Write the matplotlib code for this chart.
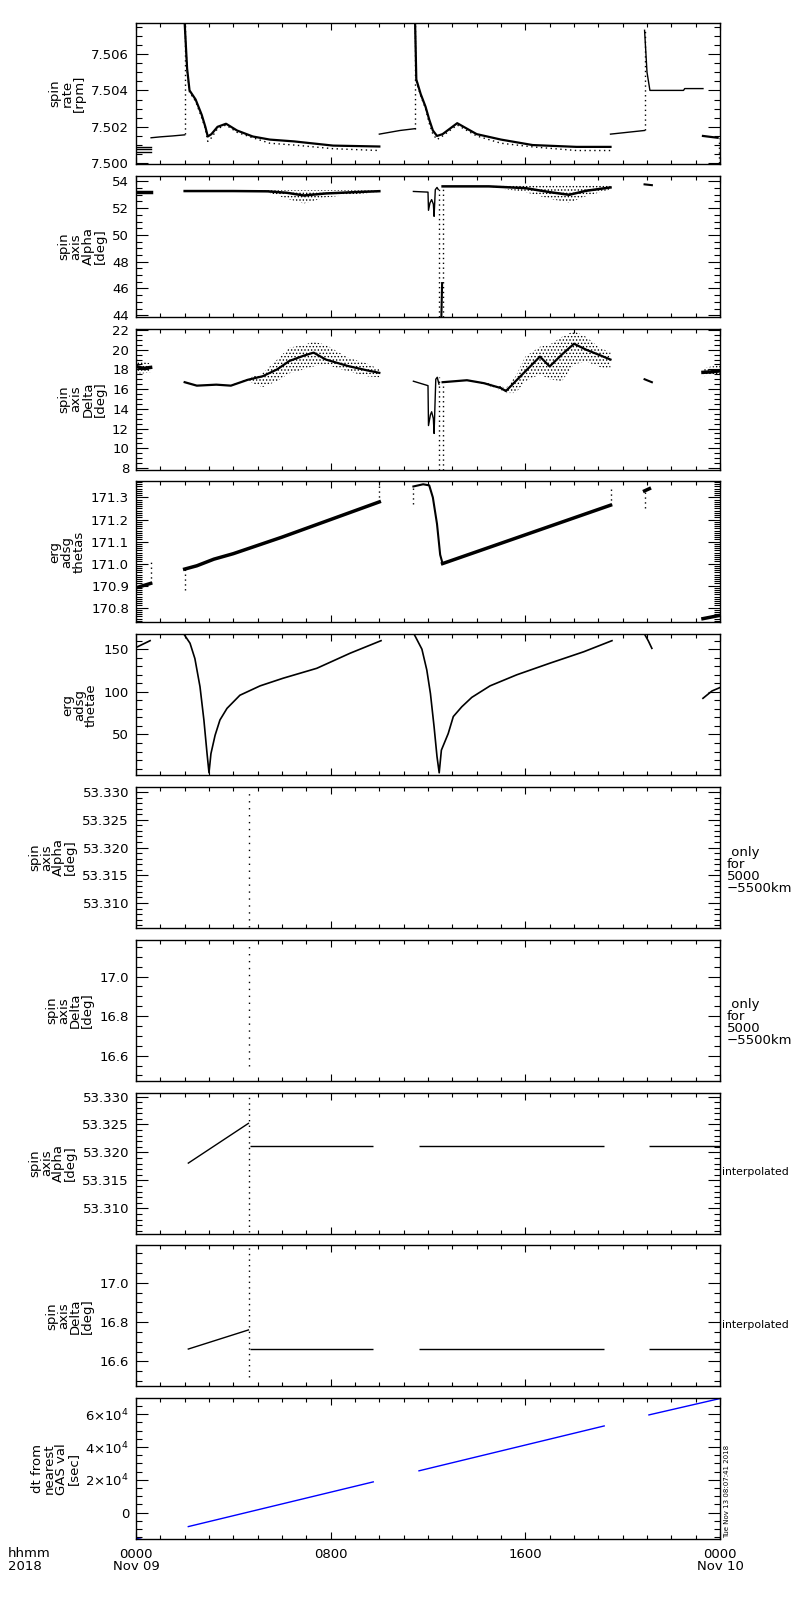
import matplotlib
matplotlib.use("Agg")
import matplotlib.pyplot as plt
from matplotlib.ticker import MultipleLocator, FuncFormatter

plt.rcParams['font.family'] = ['DejaVu Sans']
plt.rcParams['font.size'] = 9
plt.rcParams['mathtext.default'] = 'regular'
plt.rcParams['hatch.linewidth'] = 0.6

# ---- time axis: hours since 2018-11-09 00:00 ----
xticks = [0, 8, 16, 24]
xticklabels = ["0000\nNov 09", "0800", "1600", "0000\nNov 10"]

# ---- panel 1: spin rate [rpm] ----
rate_a_t = [0.0, 0.6]
rate_a_levels = [7.50092, 7.50080, 7.50064]
rate_b_t = [0.62, 1.0, 1.5, 2.0]
rate_b_v = [7.50140, 7.50145, 7.50150, 7.50156]
rate_d1_t = [2.0, 2.1, 2.2, 2.45, 2.7, 2.85, 2.95, 3.1, 3.35, 3.7, 4.15, 4.8, 5.5, 6.5, 8.1, 10.0]
rate_d1_v = [7.5077, 7.5052, 7.5040, 7.5035, 7.50266, 7.5020, 7.50147, 7.5016, 7.5020, 7.50217,
             7.5018, 7.50147, 7.5013, 7.5012, 7.50097, 7.50092]
rate_d1_lo = [7.5077, 7.5051, 7.5039, 7.5034, 7.5025, 7.5019, 7.5012, 7.5014, 7.5019, 7.5021,
              7.5017, 7.5014, 7.5011, 7.5010, 7.5008, 7.5007]
rate_c_t = [10.0, 10.85, 11.47]
rate_c_v = [7.5016, 7.5018, 7.5019]
rate_d2_t = [11.47, 11.52, 11.7, 11.9, 12.05, 12.2, 12.37, 12.6, 13.2, 13.6, 14.0, 15.0, 16.3, 18.1, 19.5]
rate_d2_v = [7.5077, 7.5046, 7.5038, 7.5031, 7.5024, 7.5018, 7.5015, 7.5016, 7.5022, 7.5019,
             7.5016, 7.5013, 7.5010, 7.5009, 7.5009]
rate_d2_lo = [7.5077, 7.5045, 7.5037, 7.5030, 7.5022, 7.5016, 7.5013, 7.5015, 7.5021, 7.5018,
              7.5015, 7.5011, 7.5009, 7.5007, 7.5007]
rate_e_t = [19.5, 20.9]
rate_e_v = [7.5016, 7.5018]
rate_d3_t = [20.9, 21.0, 21.12, 22.5, 22.55, 23.3]
rate_d3_v = [7.5073, 7.5050, 7.5040, 7.5040, 7.5041, 7.5041]
rate_f_t = [23.3, 23.9]
rate_f_v = [7.5015, 7.5014]
rate_spikes_t = [2.0, 11.47, 20.9, 23.95]
rate_spikes_lo = [7.5016, 7.5019, 7.5018, 7.5000]
rate_spikes_hi = [7.5077, 7.5077, 7.5073, 7.5014]

# ---- panel 2: spin axis alpha [deg] ----
alp_a_t = [0.0, 0.6]
alp_a_v = [53.2, 53.2]
alp_b_t = [2.0, 4.0, 5.4, 6.2, 6.9, 7.8, 9.0, 10.0]
alp_b_v = [53.28, 53.28, 53.26, 53.15, 52.95, 53.1, 53.2, 53.27]
alp_b_lo = [53.28, 53.28, 53.2, 52.7, 52.35, 52.8, 53.05, 53.2]
alp_b_hi = [53.3, 53.3, 53.35, 53.35, 53.35, 53.35, 53.35, 53.33]
alp_c_t = [11.4, 12.0, 12.02, 12.08, 12.15, 12.22, 12.25, 12.3, 12.37, 12.42]
alp_c_v = [53.25, 53.2, 51.84, 52.39, 52.64, 52.3, 51.39, 53.38, 53.55, 53.4]
alp_d_t = [12.6, 14.5, 16.0, 17.0, 17.8, 18.5, 19.5]
alp_d_v = [53.63, 53.63, 53.5, 53.2, 53.0, 53.3, 53.55]
alp_d_lo = [53.63, 53.6, 53.2, 52.7, 52.4, 52.9, 53.4]
alp_d_hi = [53.66, 53.72, 53.75, 53.75, 53.75, 53.75, 53.72]
alp_e_t = [20.9, 21.2]
alp_e_v = [53.78, 53.72]
alp_up_t = [12.55, 12.58]
alp_up_v = [43.9, 46.4]
alp_spikes_t = [12.45, 12.6]
alp_spikes_lo = [43.9, 43.9]
alp_spikes_hi = [53.4, 53.6]

# ---- panel 3: spin axis delta [deg] ----
dlt_a_t = [0.0, 0.3, 0.6]
dlt_a_v = [18.3, 18.1, 18.2]
dlt_a_lo = [17.6, 17.6, 17.7]
dlt_a_hi = [19.1, 18.8, 18.6]
dlt_b_t = [2.0, 2.5, 3.3, 3.9, 4.6, 5.2, 5.8, 6.3, 6.9, 7.3, 7.8, 8.7, 9.5, 10.0]
dlt_b_v = [16.7, 16.35, 16.45, 16.35, 16.95, 17.3, 18.0, 18.85, 19.4, 19.7, 19.0, 18.35, 17.9, 17.65]
dlt_b_lo = [16.7, 16.35, 16.45, 16.35, 16.8, 16.2, 16.8, 17.6, 18.0, 18.3, 18.5, 17.8, 17.3, 17.2]
dlt_b_hi = [16.7, 16.35, 16.45, 16.4, 17.1, 17.6, 19.0, 20.2, 20.5, 20.8, 20.5, 19.2, 18.6, 18.0]
dlt_c_t = [11.4, 12.0, 12.02, 12.1, 12.15, 12.22, 12.25, 12.32, 12.38, 12.45]
dlt_c_v = [16.8, 16.35, 12.3, 13.4, 13.7, 13.0, 11.5, 17.0, 17.2, 16.5]
dlt_d_t = [12.6, 13.6, 14.3, 15.0, 15.2, 15.6, 16.0, 16.6, 17.0, 17.5, 18.0, 18.5, 19.1, 19.5]
dlt_d_v = [16.7, 16.9, 16.6, 16.1, 15.8, 16.8, 17.8, 19.3, 18.3, 19.5, 20.6, 20.0, 19.4, 19.0]
dlt_d_lo = [16.7, 16.9, 16.5, 15.9, 15.6, 15.6, 16.8, 17.5, 17.0, 16.8, 18.5, 18.8, 18.2, 18.0]
dlt_d_hi = [16.7, 16.9, 16.7, 16.3, 16.1, 17.3, 19.3, 20.3, 20.5, 21.3, 21.9, 21.3, 20.1, 19.8]
dlt_e_t = [20.9, 21.2]
dlt_e_v = [17.0, 16.7]
dlt_f_t = [23.3, 23.65, 24.0]
dlt_f_v = [17.7, 17.75, 17.85]
dlt_f_lo = [17.3, 17.4, 17.5]
dlt_f_hi = [18.1, 18.3, 18.4]
dlt_spikes_t = [12.45, 12.6]
dlt_spikes_lo = [7.8, 7.8]
dlt_spikes_hi = [17.2, 16.7]

# ---- panel 4: erg adsg thetas ----
ths_a_t = [0.0, 0.6]
ths_a_v = [170.89, 170.91]
ths_b_t = [2.0, 2.5, 3.2, 4.0, 6.0, 8.0, 10.0]
ths_b_v = [170.975, 170.99, 171.02, 171.045, 171.12, 171.2, 171.28]
ths_c_t = [11.4, 11.8, 12.05, 12.2, 12.37, 12.5, 12.6]
ths_c_v = [171.35, 171.36, 171.355, 171.30, 171.18, 171.04, 171.0]
ths_d_t = [12.6, 19.5]
ths_d_v = [171.0, 171.265]
ths_e_t = [20.9, 21.1]
ths_e_v = [171.33, 171.34]
ths_f_t = [23.3, 24.0]
ths_f_v = [170.75, 170.765]
ths_spikes_t = [0.6, 2.0, 10.0, 11.4, 19.5, 20.9]
ths_spikes_lo = [170.91, 170.88, 171.28, 171.27, 171.265, 171.25]
ths_spikes_hi = [171.01, 170.98, 171.373, 171.35, 171.35, 171.33]

# ---- panel 5: erg adsg thetae ----
the_a_t = [0.0, 0.58]
the_a_v = [152, 160]
the_b_t = [1.97, 2.22, 2.42, 2.63, 2.79, 2.92, 3.0, 3.08, 3.25, 3.45, 3.74, 4.27, 5.1, 6.05, 7.43, 8.8, 10.07]
the_b_v = [167.6, 157, 139, 106, 67, 27.5, 5, 27.5, 49, 67, 80.6, 96, 107, 116, 127.6, 145.3, 160]
the_c_t = [11.43, 11.75, 11.95, 12.1, 12.25, 12.37, 12.46, 12.55, 12.83, 13.04, 13.39, 13.8, 14.55,
           15.65, 17.0, 18.4, 19.56]
the_c_v = [167.6, 150, 125.7, 98, 59, 24, 5, 31.6, 51, 71, 82.5, 93.5, 107, 120, 133.5, 147, 160]
the_d_t = [20.9, 21.05, 21.2]
the_d_v = [167.6, 160, 151]
the_e_t = [23.3, 23.67, 24.0]
the_e_v = [92.4, 101, 105]

# ---- panels 6-9: spin axis (5000-5500 km / interpolated) ----
cut_t = 4.65
alp6_range = [53.3057, 53.3305]
dlt7_range = [16.55, 17.17]
alp8_ramp_t = [2.15, 4.62]
alp8_ramp_v = [53.3181, 53.3252]
alp8_flat = 53.3211
dlt9_ramp_t = [2.15, 4.62]
dlt9_ramp_v = [16.663, 16.760]
dlt9_flat = 16.663
flat_starts = [4.68, 11.63, 21.08]
flat_ends = [9.75, 19.24, 24.0]
alp8_range = [53.3057, 53.3306]
dlt9_range = [16.52, 17.19]

# ---- panel 10: dt from nearest GAS val [sec] ----
dt_t = [[0.0, 0.2], [2.15, 9.75], [11.63, 19.24], [21.08, 24.0]]
dt_v = [[-15800, -16300], [-8600, 18700], [25460, 52860], [59600, 69600]]

ylabels = ["spin\nrate\n[rpm]", "spin\naxis\nAlpha\n[deg]", "spin\naxis\nDelta\n[deg]",
           "erg\nadsg\nthetas", "erg\nadsg\nthetae", "spin\naxis\nAlpha\n[deg]",
           "spin\naxis\nDelta\n[deg]", "spin\naxis\nAlpha\n[deg]", "spin\naxis\nDelta\n[deg]",
           "dt from\nnearest\nGAS val\n[sec]"]
ylims = [(7.49996, 7.5077), (43.88, 54.42), (7.83, 22.14), (170.733, 171.373), (2.2, 167.6),
         (53.3055, 53.3309), (16.473, 17.186), (53.3055, 53.3307), (16.473, 17.19),
         (-16300, 69800)]
ymajor = [0.002, 2, 2, 0.1, 50, 0.005, 0.2, 0.005, 0.2, 20000]
yminor = [0.0005, 0.5, 0.5, 0.01, 10, 0.001, 0.05, 0.001, 0.05, 5000]
yfmt = ["%.3f", "%d", "%d", "%.1f", "%d", "%.3f", "%.1f", "%.3f", "%.1f", None]
side_labels = [None, None, None, None, None, " only\nfor\n5000\n\u22125500km",
               " only\nfor\n5000\n\u22125500km", "interpolated", "interpolated", None]


def sci_fmt(v, pos):
    if abs(v) < 1:
        return "0"
    return r"$%d{\times}10^{4}$" % int(round(v / 1e4))


fig = plt.figure(figsize=(8, 16), dpi=100)
H = 1600.0
top0, ph, gap = 23.0, 141.0, 11.8
axes = []
for i in range(10):
    y_top = top0 + i * (ph + gap)
    ax = fig.add_axes([136 / 800.0, 1 - (y_top + ph) / H, 584 / 800.0, ph / H])
    axes.append(ax)
    ax.set_xlim(0, 24)
    ax.set_ylim(*ylims[i])
    ax.xaxis.set_major_locator(MultipleLocator(8))
    ax.xaxis.set_minor_locator(MultipleLocator(1))
    ax.yaxis.set_major_locator(MultipleLocator(ymajor[i]))
    ax.yaxis.set_minor_locator(MultipleLocator(yminor[i]))
    if yfmt[i] is None:
        ax.yaxis.set_major_formatter(FuncFormatter(sci_fmt))
    else:
        ax.yaxis.set_major_formatter(FuncFormatter(lambda v, p, f=yfmt[i]: f % v))
    ax.tick_params(axis='both', which='both', direction='in', top=True, right=True,
                   colors='black', labelsize=9.5)
    ax.tick_params(axis='y', which='major', length=8.5, width=0.8, pad=5)
    ax.tick_params(axis='y', which='minor', length=4.5, width=0.8)
    ax.tick_params(axis='x', which='major', length=5, width=0.8, pad=6)
    ax.tick_params(axis='x', which='minor', length=3, width=0.8)
    for s in ax.spines.values():
        s.set_linewidth(1.0)
    ax.set_ylabel(ylabels[i], fontsize=9.5, linespacing=0.9, labelpad=4)
    if i < 9:
        ax.set_xticklabels([])
    else:
        ax.set_xticks(xticks)
        ax.set_xticklabels(xticklabels, fontsize=9.5, linespacing=0.95)
    if side_labels[i] is not None:
        if side_labels[i] == "interpolated":
            ax.text(1.003, 0.435, side_labels[i], transform=ax.transAxes,
                    ha='left', va='center', fontsize=7.8)
        else:
            ax.text(1.012, 0.41, side_labels[i], transform=ax.transAxes,
                    ha='left', va='center', fontsize=9.5, linespacing=0.9)

k = dict(color='black', lw=1.0)
dots = dict(color='black', lw=1.0, ls=(0, (1, 2.5)))
band = dict(facecolor='none', edgecolor='black', hatch='.....', linewidth=0)

# panel 1
ax = axes[0]
for lev in rate_a_levels:
    ax.plot(rate_a_t, [lev, lev], **k)
ax.plot(rate_b_t, rate_b_v, **k)
ax.plot(rate_d1_t, rate_d1_v, color='black', lw=1.6)
ax.plot(rate_d1_t, rate_d1_lo, **dots)
ax.plot(rate_c_t, rate_c_v, **k)
ax.plot(rate_d2_t, rate_d2_v, color='black', lw=1.6)
ax.plot(rate_d2_t, rate_d2_lo, **dots)
ax.plot(rate_e_t, rate_e_v, **k)
ax.plot(rate_d3_t, rate_d3_v, **k)
ax.plot(rate_f_t, rate_f_v, color='black', lw=1.6)
ax.vlines(rate_spikes_t, rate_spikes_lo, rate_spikes_hi, colors='black', lw=1.0,
          linestyles=[(0, (1, 2.5))])

# panel 2
ax = axes[1]
ax.plot(alp_a_t, alp_a_v, color='black', lw=2.5)
ax.fill_between(alp_b_t, alp_b_lo, alp_b_hi, **band)
ax.plot(alp_b_t, alp_b_v, color='black', lw=1.8)
ax.plot(alp_c_t, alp_c_v, **k)
ax.fill_between(alp_d_t, alp_d_lo, alp_d_hi, **band)
ax.plot(alp_d_t, alp_d_v, color='black', lw=1.8)
ax.plot(alp_e_t, alp_e_v, color='black', lw=1.5)
ax.plot(alp_up_t, alp_up_v, color='black', lw=1.5)
ax.vlines(alp_spikes_t, alp_spikes_lo, alp_spikes_hi, colors='black', lw=1.0,
          linestyles=[(0, (1, 2.5))])

# panel 3
ax = axes[2]
ax.fill_between(dlt_a_t, dlt_a_lo, dlt_a_hi, **band)
ax.plot(dlt_a_t, dlt_a_v, color='black', lw=2.5)
ax.fill_between(dlt_b_t, dlt_b_lo, dlt_b_hi, **band)
ax.plot(dlt_b_t, dlt_b_v, color='black', lw=1.6)
ax.plot(dlt_c_t, dlt_c_v, **k)
ax.fill_between(dlt_d_t, dlt_d_lo, dlt_d_hi, **band)
ax.plot(dlt_d_t, dlt_d_v, color='black', lw=1.6)
ax.plot(dlt_e_t, dlt_e_v, color='black', lw=1.5)
ax.fill_between(dlt_f_t, dlt_f_lo, dlt_f_hi, **band)
ax.plot(dlt_f_t, dlt_f_v, color='black', lw=2.5)
ax.vlines(dlt_spikes_t, dlt_spikes_lo, dlt_spikes_hi, colors='black', lw=1.0,
          linestyles=[(0, (1, 2.5))])

# panel 4
ax = axes[3]
ax.plot(ths_a_t, ths_a_v, color='black', lw=2.5)
ax.plot(ths_b_t, ths_b_v, color='black', lw=2.5)
ax.plot(ths_c_t, ths_c_v, color='black', lw=1.5)
ax.plot(ths_d_t, ths_d_v, color='black', lw=2.5)
ax.plot(ths_e_t, ths_e_v, color='black', lw=2.5)
ax.plot(ths_f_t, ths_f_v, color='black', lw=2.5)
ax.vlines(ths_spikes_t, ths_spikes_lo, ths_spikes_hi, colors='black', lw=1.0,
          linestyles=[(0, (1, 2.5))])

# panel 5
ax = axes[4]
for tt, vv in [(the_a_t, the_a_v), (the_b_t, the_b_v), (the_c_t, the_c_v),
               (the_d_t, the_d_v), (the_e_t, the_e_v)]:
    ax.plot(tt, vv, color='black', lw=1.2)

# panel 6, 7
axes[5].vlines([cut_t], [alp6_range[0]], [alp6_range[1]], colors='black', lw=1.0,
               linestyles=[(0, (1, 4))])
axes[6].vlines([cut_t], [dlt7_range[0]], [dlt7_range[1]], colors='black', lw=1.0,
               linestyles=[(0, (1, 4))])

# panel 8, 9
ax = axes[7]
ax.plot(alp8_ramp_t, alp8_ramp_v, **k)
ax.hlines([alp8_flat] * 3, flat_starts, flat_ends, colors='black', lw=1.0)
ax.vlines([cut_t], [alp8_range[0]], [alp8_range[1]], colors='black', lw=1.0,
          linestyles=[(0, (1, 3))])
ax = axes[8]
ax.plot(dlt9_ramp_t, dlt9_ramp_v, **k)
ax.hlines([dlt9_flat] * 3, flat_starts, flat_ends, colors='black', lw=1.0)
ax.vlines([cut_t], [dlt9_range[0]], [dlt9_range[1]], colors='black', lw=1.0,
          linestyles=[(0, (1, 3))])

# panel 10
ax = axes[9]
for tt, vv in zip(dt_t, dt_v):
    ax.plot(tt, vv, color='#0000ff', lw=1.0)

fig.text(8 / 800.0, 1 - 1547 / H, "hhmm\n2018", ha='left', va='top', fontsize=9.5,
         linespacing=0.95)
fig.text(724 / 800.0, 1 - 1538 / H, "Tue Nov 13 08:07:41 2018", rotation=90,
         ha='left', va='bottom', fontsize=5)

fig.savefig("out.png", dpi=100)
